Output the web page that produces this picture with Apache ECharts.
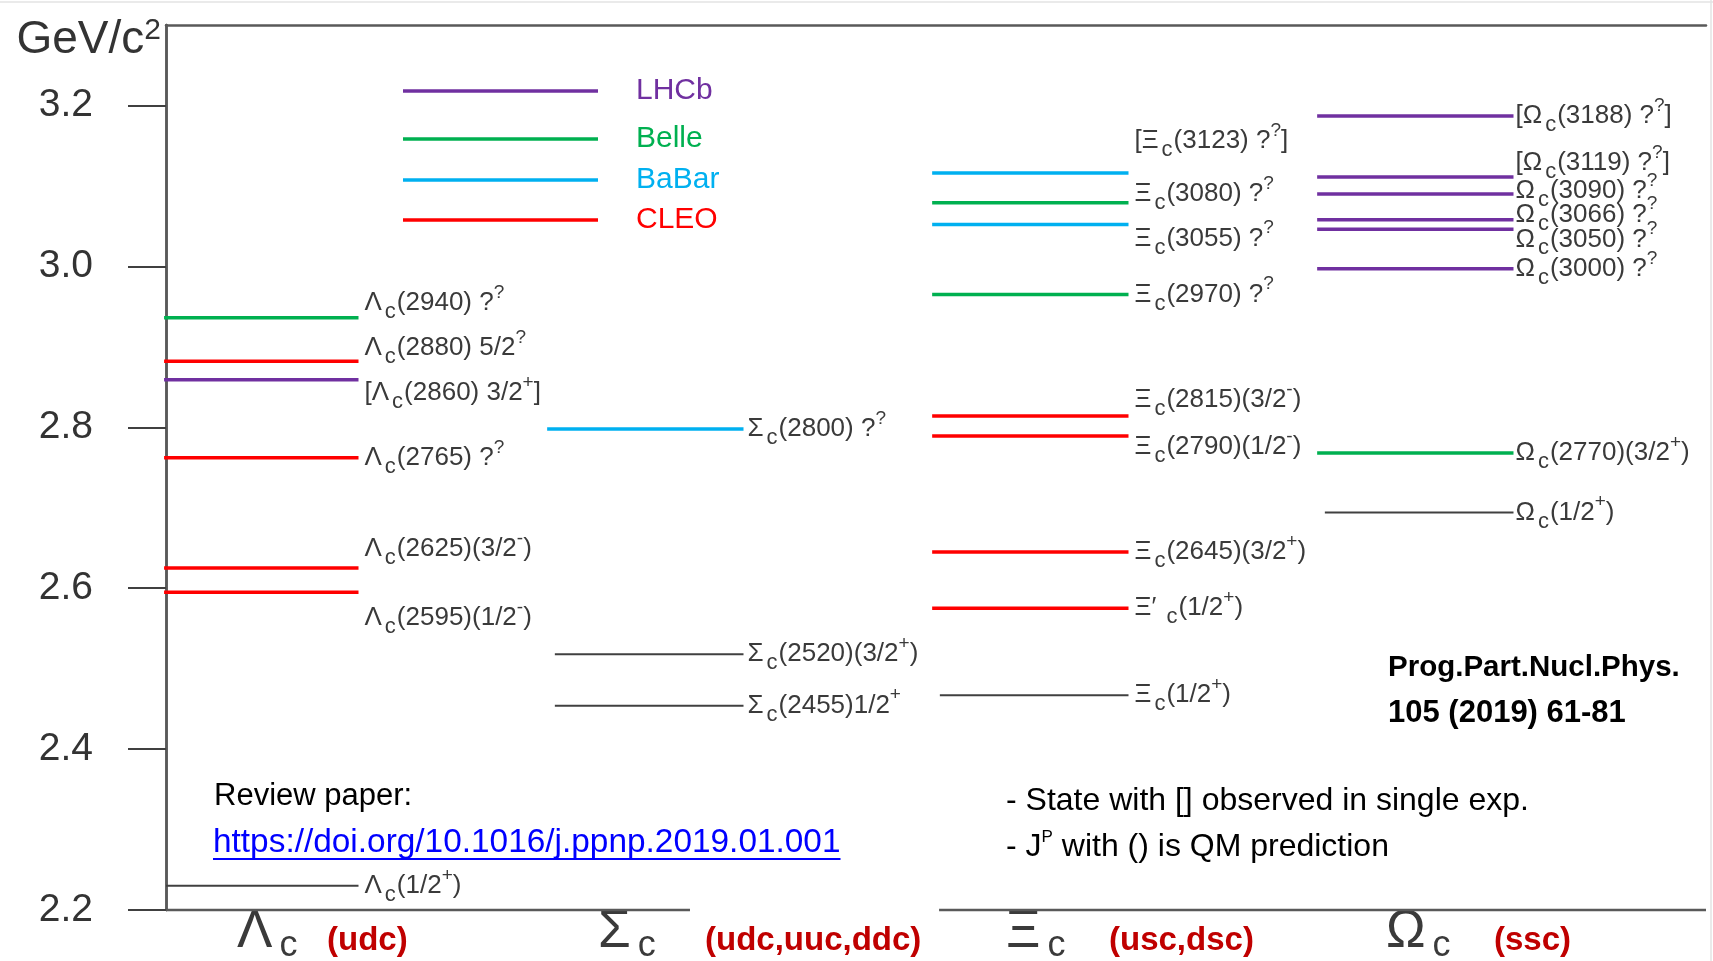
<!DOCTYPE html>
<html><head><meta charset="utf-8">
<script src="https://cdn.jsdelivr.net/npm/echarts@6/dist/echarts.min.js"></script>
<style>html,body{margin:0;padding:0;background:#fff}#c{width:1713px;height:961px}</style>
</head><body><div id="c"></div><script>
// ---------------- data ----------------
const experiments = ['LHCb', 'Belle', 'BaBar', 'CLEO'];
const baryons = ['Λ_c', 'Σ_c', 'Ξ_c', 'Ω_c'];
const quarkContent = ['(udc)', '(udc,uuc,ddc)', '(usc,dsc)', '(ssc)'];
const yTicks = [2.2, 2.4, 2.6, 2.8, 3.0, 3.2];

const lambdaMass   = [2.936, 2.882, 2.859, 2.762, 2.625, 2.595, 2.230];
const lambdaSource = ['Belle', 'CLEO', 'LHCb', 'CLEO', 'CLEO', 'CLEO', 'QM'];
const lambdaName   = ['Λ_c(2940) ?^?', 'Λ_c(2880) 5/2^?', '[Λ_c(2860) 3/2^+]', 'Λ_c(2765) ?^?',
                      'Λ_c(2625)(3/2^-)', 'Λ_c(2595)(1/2^-)', 'Λ_c(1/2^+)'];

const sigmaMass   = [2.798, 2.518, 2.454];
const sigmaSource = ['BaBar', 'QM', 'QM'];
const sigmaName   = ['Σ_c(2800) ?^?', 'Σ_c(2520)(3/2^+)', 'Σ_c(2455)1/2^+'];

const xiMass   = [3.116, 3.079, 3.052, 2.965, 2.814, 2.789, 2.645, 2.575, 2.467];
const xiSource = ['BaBar', 'Belle', 'BaBar', 'Belle', 'CLEO', 'CLEO', 'CLEO', 'CLEO', 'QM'];
const xiName   = ['[Ξ_c(3123) ?^?]', 'Ξ_c(3080) ?^?', 'Ξ_c(3055) ?^?', 'Ξ_c(2970) ?^?',
                  'Ξ_c(2815)(3/2^-)', 'Ξ_c(2790)(1/2^-)', 'Ξ_c(2645)(3/2^+)', 'Ξ′ _c(1/2^+)', 'Ξ_c(1/2^+)'];

const omegaMass   = [3.187, 3.111, 3.090, 3.058, 3.046, 2.997, 2.768, 2.694];
const omegaSource = ['LHCb', 'LHCb', 'LHCb', 'LHCb', 'LHCb', 'LHCb', 'Belle', 'QM'];
const omegaName   = ['[Ω_c(3188) ?^?]', '[Ω_c(3119) ?^?]', 'Ω_c(3090) ?^?', 'Ω_c(3066) ?^?',
                     'Ω_c(3050) ?^?', 'Ω_c(3000) ?^?', 'Ω_c(2770)(3/2^+)', 'Ω_c(1/2^+)'];

const reviewTitle = 'Review paper:';
const reviewLink = 'https://doi.org/10.1016/j.ppnp.2019.01.001';
const noteLines = ['- State with [] observed in single exp.', '- J^P with () is QM prediction'];
const refLines = ['Prog.Part.Nucl.Phys.', '105 (2019) 61-81'];
const yUnit = 'GeV/c^2';

// ---------------- layout / style ----------------
const F = '"Liberation Sans", Arial, sans-serif';
const expColor = { LHCb: '#7030A0', Belle: '#00B050', BaBar: '#00B0F0', CLEO: '#FF0000', QM: '#404040' };
const colStart = [-0.005, 0.99, 1.99, 2.99];
const qmStart = [0, 1.01, 2.01, 3.01];
const colEnd = [0.5, 1.5, 2.5, 3.5];
const labelGap = [6, 4, 6, 2];
const labelDy = [
  [-15, -13, 13, 0, -19, 26, 0],
  [0, 0, 0],
  [-32, -9, 14, 0, -16, 11, 0, 0, 0],
  [0, -14, -3, -5, 10, 0, 0, 0]
];
const legendY = [91, 139, 180, 220];
const frameSegs = [[0, 1.361], [2.008, 4]];
const greekX = [237, 598, 1006, 1386];
const quarkX = [327, 705, 1109, 1494];

const columns = [
  { mass: lambdaMass, src: lambdaSource, name: lambdaName },
  { mass: sigmaMass, src: sigmaSource, name: sigmaName },
  { mass: xiMass, src: xiSource, name: xiName },
  { mass: omegaMass, src: omegaSource, name: omegaName }
];

function toRich(s, base, sub, sup) {
  base = base || 't'; sub = sub || 's'; sup = sup || 'p';
  let out = '', buf = '';
  const flush = () => { if (buf) { out += '{' + base + '|' + buf + '}'; buf = ''; } };
  for (let i = 0; i < s.length; i++) {
    const ch = s[i];
    if ((ch === '_' || ch === '^') && i + 1 < s.length) {
      flush();
      out += '{' + (ch === '_' ? sub : sup) + '|' + s[i + 1] + '}';
      i++;
    } else buf += ch;
  }
  flush();
  return out;
}

const TXT = '#3a3a3a';
const labelRich = {
  t: { fontSize: 26, fontFamily: F, fill: TXT, lineHeight: 40, verticalAlign: 'middle' },
  s: { fontSize: 22, fontFamily: F, fill: TXT, lineHeight: 22, verticalAlign: 'bottom', padding: [0, 1, 0, 3] },
  p: { fontSize: 19, fontFamily: F, fill: TXT, lineHeight: 14, verticalAlign: 'top' }
};

const levels = [];
columns.forEach((col, c) => {
  col.mass.forEach((m, i) => {
    const qm = col.src[i] === 'QM';
    levels.push({
      src: col.src[i], mass: m, name: col.name[i], qm,
      x0: qm ? qmStart[c] : colStart[c], x1: colEnd[c],
      gap: labelGap[c], dy: labelDy[c][i]
    });
  });
});

function levelSeries(name) {
  const items = levels.filter(l => l.src === name);
  const color = expColor[name];
  return {
    type: 'custom', name, coordinateSystem: 'cartesian2d', xAxisIndex: 0, yAxisIndex: 0,
    itemStyle: { color }, silent: true, animation: false, clip: false,
    encode: { x: [0, 1], y: 2 },
    data: items.map(it => [it.x0, it.x1, it.mass]),
    renderItem: (params, api) => {
      const it = items[params.dataIndex];
      const a = api.coord([api.value(0), api.value(2)]);
      const b = api.coord([api.value(1), api.value(2)]);
      return {
        type: 'group', children: [
          { type: 'line', shape: { x1: a[0], y1: a[1], x2: b[0], y2: b[1] },
            style: { stroke: color, lineWidth: it.qm ? 2 : 3.5 } },
          { type: 'text', x: b[0] + it.gap, y: b[1] + it.dy,
            style: { text: toRich(it.name), rich: labelRich, align: 'left', verticalAlign: 'middle' } }
        ]
      };
    }
  };
}

const frameSeries = {
  type: 'custom', name: 'frame', coordinateSystem: 'cartesian2d', silent: true, animation: false, clip: false,
  encode: { x: [0, 1], y: 2 },
  data: frameSegs.map(s => [s[0], s[1], yTicks[0]]),
  renderItem: (params, api) => {
    const a = api.coord([api.value(0), api.value(2)]);
    const b = api.coord([api.value(1), api.value(2)]);
    return { type: 'line', shape: { x1: a[0], y1: a[1], x2: b[0], y2: b[1] },
      style: { stroke: '#595959', lineWidth: 2.5 } };
  }
};

function measure(text, font) {
  const ctx = document.createElement('canvas').getContext('2d');
  ctx.font = font; return ctx.measureText(text).width;
}
const graphics = [];
graphics.push({ type: 'line', shape: { x1: 0, y1: 2, x2: 1713, y2: 2 }, style: { stroke: '#e3e3e3', lineWidth: 1.5 }, silent: true });
graphics.push({ type: 'line', shape: { x1: 1711, y1: 0, x2: 1711, y2: 961 }, style: { stroke: '#e3e3e3', lineWidth: 1.5 }, silent: true });
const catRich = {
  g: { fontSize: 53, fontFamily: F, fill: TXT, lineHeight: 64, verticalAlign: 'middle' },
  s: { fontSize: 36, fontFamily: F, fill: TXT, lineHeight: 36, verticalAlign: 'bottom', padding: [0, 0, 0, 7] }
};
baryons.forEach((b, i) => {
  graphics.push({ type: 'text', x: greekX[i], y: 932, silent: true,
    style: { text: toRich(b, 'g', 's', 's'), rich: catRich, align: 'left', verticalAlign: 'middle' } });
  graphics.push({ type: 'text', x: quarkX[i], y: 941, silent: true,
    style: { text: quarkContent[i], fontSize: 33, fontWeight: 'bold', fontFamily: F, fill: '#C00000', align: 'left', verticalAlign: 'middle' } });
});
graphics.push({ type: 'text', x: 214, y: 796, silent: true,
  style: { text: reviewTitle, fontSize: 31, fontFamily: F, fill: '#000', align: 'left', verticalAlign: 'middle' } });
const LINK_FS = 33.4;
graphics.push({ type: 'text', x: 213, y: 843, silent: true,
  style: { text: reviewLink, fontSize: LINK_FS, fontFamily: F, fill: '#0000FF', align: 'left', verticalAlign: 'middle' } });
const linkW = measure(reviewLink, LINK_FS + 'px ' + F);
graphics.push({ type: 'line', silent: true, shape: { x1: 213, y1: 859, x2: 213 + linkW, y2: 859 }, style: { stroke: '#0000FF', lineWidth: 2 } });
const noteRich = {
  n: { fontSize: 32, fontFamily: F, fill: '#000', lineHeight: 36, verticalAlign: 'middle' },
  u: { fontSize: 32, fontFamily: F, fill: '#000', lineHeight: 36, verticalAlign: 'middle' },
  q: { fontSize: 17, fontFamily: F, fill: '#000', lineHeight: 17, verticalAlign: 'top' }
};
noteLines.forEach((t, i) => {
  graphics.push({ type: 'text', x: 1006, y: [801, 847][i], silent: true,
    style: { text: toRich(t, 'n', 'u', 'q'), rich: noteRich, align: 'left', verticalAlign: 'middle' } });
});
refLines.forEach((t, i) => {
  graphics.push({ type: 'text', x: 1388, y: [668, 713][i], silent: true,
    style: { text: t, fontSize: [29.5, 31][i], fontWeight: 'bold', fontFamily: F, fill: '#000', align: 'left', verticalAlign: 'middle' } });
});

const chart = echarts.init(document.getElementById('c'), null, { renderer: 'canvas' });
chart.setOption({
  backgroundColor: '#fff',
  animation: false,
  grid: { left: 166, right: 7, top: 25, bottom: 51, containLabel: false },
  xAxis: [
    { type: 'value', min: 0, max: 4, show: false },
    { type: 'value', min: 0, max: 4, position: 'top', axisLine: { show: true, lineStyle: { color: '#595959', width: 2.5 } },
      axisTick: { show: false }, axisLabel: { show: false }, splitLine: { show: false } }
  ],
  yAxis: [
    { type: 'value', min: 2.2, max: 3.3, interval: 0.2, position: 'left',
      axisLine: { show: true, lineStyle: { color: '#595959', width: 2.5 } },
      axisTick: { show: true, inside: false, length: 38, customValues: yTicks, lineStyle: { color: '#404040', width: 2 } },
      axisLabel: { customValues: yTicks, formatter: v => Number(v).toFixed(1), fontSize: 39, color: '#333', fontFamily: F, margin: 73 },
      splitLine: { show: false },
      name: toRich(yUnit, 'a', 'a', 'b'), nameLocation: 'end', nameGap: -15,
      nameTextStyle: { align: 'right', verticalAlign: 'middle', padding: [0, 5, 0, 0],
        rich: { a: { fontSize: 46, fontFamily: F, color: '#333', lineHeight: 48, verticalAlign: 'middle' },
                b: { fontSize: 30, fontFamily: F, color: '#333', lineHeight: 28, verticalAlign: 'top' } } }
    },
    { type: 'value', min: 2.2, max: 3.3, position: 'right', axisLine: { show: true, lineStyle: { color: '#595959', width: 2.5 } },
      axisTick: { show: false }, axisLabel: { show: false }, splitLine: { show: false } }
  ],
  legend: experiments.map((e, i) => ({
    data: [e], orient: 'vertical', left: 403, top: legendY[i] - 15, padding: 0,
    icon: 'rect', itemWidth: 195, itemHeight: 3.5, selectedMode: false,
    textStyle: { color: expColor[e], fontSize: 30, fontFamily: F, lineHeight: 30, padding: [0, 0, 0, 33] }
  })),
  series: experiments.map(levelSeries).concat([levelSeries('QM'), frameSeries]),
  graphic: { elements: graphics }
});
</script></body></html>
